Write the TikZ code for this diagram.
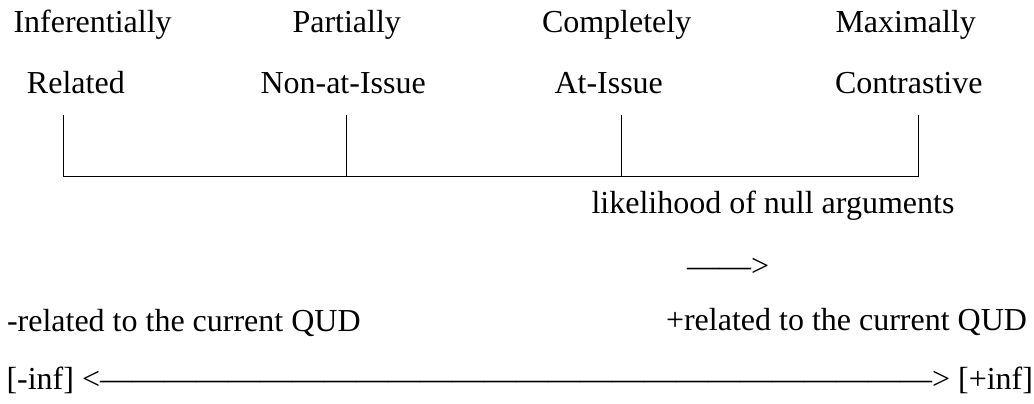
\documentclass[tikz,border=0pt]{standalone}
\usepackage{fontspec}
\setmainfont{Liberation Serif}
\begin{document}
\begin{tikzpicture}[x=1pt,y=-1pt,
  lbl/.style={anchor=base west,inner sep=0pt,outer sep=0pt,font=\fontsize{32}{32}\selectfont},
  scaleline/.style={line width=1pt,black}]
\useasboundingbox (0,0) rectangle (1034,404);
% labels
\node[lbl] (inf1) at (13.5,33) {Inferentially};
\node[lbl] (inf2) at (27,93.5) {Related};
\node[lbl] (par1) at (292.5,33) {Partially};
\node[lbl] (par2) at (260.5,93.5) {Non-at-Issue};
\node[lbl] (com1) at (542,33) {Completely};
\node[lbl] (com2) at (554.5,93.5) {At-Issue};
\node[lbl] (max1) at (835.5,33) {Maximally};
\node[lbl] (max2) at (835,93.5) {Contrastive};
\node[lbl] (lik) at (591.5,213) {likelihood of null arguments};
\node[lbl] (arr) at (687,276) {——>};
\node[lbl] (neg) at (7,331) {-related to the current QUD};
\node[lbl] (pos) at (666,330.5) {+related to the current QUD};
\node[lbl] (rng) at (6.5,389) {[-inf] <——————————————————————————> [+inf]};
% scale
\coordinate (t1) at (63.5,115);
\coordinate (t2) at (346,115);
\coordinate (t3) at (621,115);
\coordinate (t4) at (918,115);
\coordinate (b1) at (63.5,176);
\coordinate (b2) at (346,176);
\coordinate (b3) at (621,176);
\coordinate (b4) at (918,176);
\draw[scaleline] (t1) -- (b1) -- (b4) -- (t4);
\draw[scaleline] (t2) -- (b2);
\draw[scaleline] (t3) -- (b3);
\end{tikzpicture}
\end{document}
